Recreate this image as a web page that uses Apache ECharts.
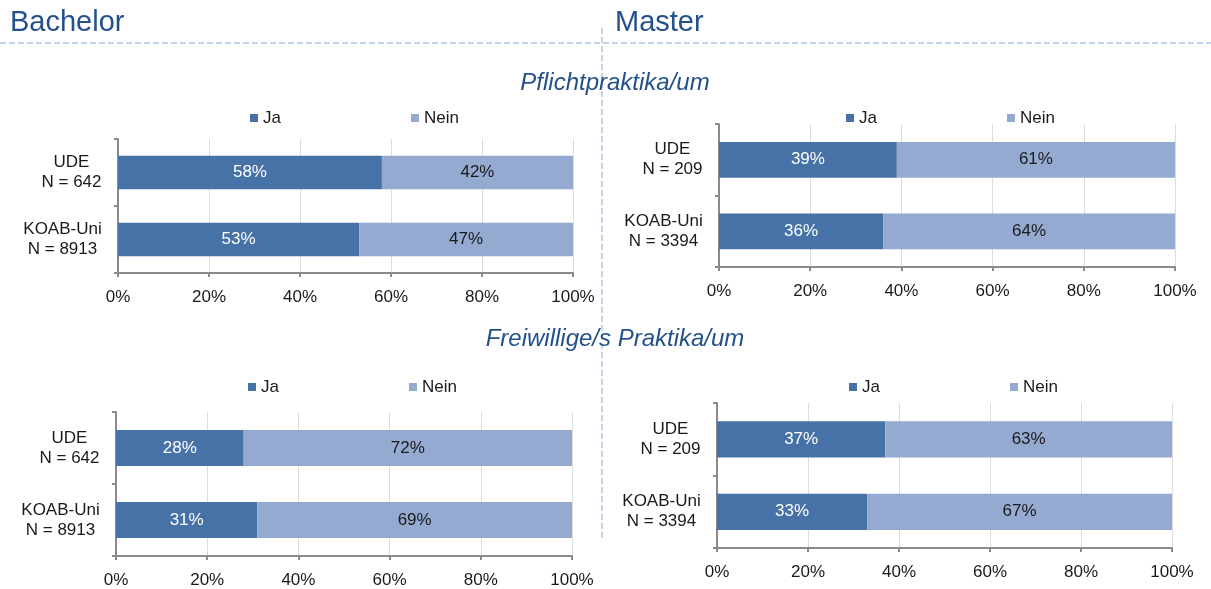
<!DOCTYPE html>
<html>
<head>
<meta charset="utf-8">
<script src="https://cdn.jsdelivr.net/npm/echarts@6/dist/echarts.min.js"></script>
<style>
  html, body { margin: 0; padding: 0; background: #ffffff; }
  #chart { width: 1211px; height: 589px; }
</style>
</head>
<body>
<div id="chart"></div>
<script>
// Categories (top to bottom) and shares in percent
const categories = ['UDE\nN = 642', 'KOAB-Uni\nN = 8913'];
const categoriesMaster = ['UDE\nN = 209', 'KOAB-Uni\nN = 3394'];
const seriesNames = ['Ja', 'Nein'];

const bachelorPflichtJa = [58, 53];
const bachelorPflichtNein = [42, 47];
const masterPflichtJa = [39, 36];
const masterPflichtNein = [61, 64];
const bachelorFreiwilligJa = [28, 31];
const bachelorFreiwilligNein = [72, 69];
const masterFreiwilligJa = [37, 33];
const masterFreiwilligNein = [63, 67];

const xTicks = [0, 20, 40, 60, 80, 100];

const panelTitles = ['Bachelor', 'Master'];
const sectionTitles = ['Pflichtpraktika/um', 'Freiwillige/s Praktika/um'];

const FONT = '"Liberation Sans", Arial, sans-serif';
const DARK = '#4672a8';
const LIGHT = '#94aad1';
const TITLE_BLUE = '#24518b';
const LINE_BLUE = '#c3d5ec';
const FS = 17;

// Measure text so that multi-line category labels can be centred line by line
// while the whole block stays right-aligned against the axis.
const measureCtx = document.createElement('canvas').getContext('2d');
measureCtx.font = FS + 'px ' + FONT;
function blockWidth(label) {
  return Math.ceil(Math.max.apply(null, label.split('\n').map(l => measureCtx.measureText(l).width)));
}
function categoryLabel(cats) {
  const rich = {};
  cats.forEach((c, k) => {
    rich['c' + k] = { width: blockWidth(c), align: 'center', fontSize: FS,
      fontFamily: FONT, color: '#1a1a1a', lineHeight: 20 };
  });
  return {
    rich: rich,
    formatter: (value, index) => value.split('\n').map(l => '{c' + index + '|' + l + '}').join('\n')
  };
}

// One panel per chart: grid box, legend anchor
const panels = [
  { grid: { left: 118, top: 139, width: 455, height: 134 }, legend: { left: 250, top: 109 },
    cats: categories, ja: bachelorPflichtJa, nein: bachelorPflichtNein },
  { grid: { left: 719, top: 124, width: 456, height: 143 }, legend: { left: 846, top: 109 },
    cats: categoriesMaster, ja: masterPflichtJa, nein: masterPflichtNein },
  { grid: { left: 116, top: 412, width: 456, height: 144 }, legend: { left: 248, top: 378 },
    cats: categories, ja: bachelorFreiwilligJa, nein: bachelorFreiwilligNein },
  { grid: { left: 717, top: 403, width: 455, height: 145 }, legend: { left: 849, top: 378 },
    cats: categoriesMaster, ja: masterFreiwilligJa, nein: masterFreiwilligNein }
];

const grids = [], xAxes = [], yAxes = [], series = [], legends = [];

panels.forEach((p, i) => {
  grids.push(Object.assign({ containLabel: false }, p.grid));
  xAxes.push({
    type: 'value', gridIndex: i, min: xTicks[0], max: xTicks[xTicks.length - 1],
    interval: xTicks[1] - xTicks[0],
    axisLine: { show: true, lineStyle: { color: '#8a8a8a', width: 2 } },
    axisTick: { show: true, length: 4, lineStyle: { color: '#8a8a8a', width: 2 } },
    splitLine: { show: true, lineStyle: { color: '#dcdcdc', width: 1 } },
    axisLabel: { color: '#1a1a1a', fontSize: FS, fontFamily: FONT, margin: 16,
      formatter: v => v + '%' }
  });
  const cl = categoryLabel(p.cats);
  yAxes.push({
    type: 'category', gridIndex: i, data: p.cats, inverse: true,
    axisLine: { show: true, lineStyle: { color: '#8a8a8a', width: 2 } },
    axisTick: { show: true, length: 4, lineStyle: { color: '#8a8a8a', width: 2 } },
    splitLine: { show: false },
    axisLabel: { color: '#1a1a1a', fontSize: FS, fontFamily: FONT, margin: 16,
      lineHeight: 20, align: 'right', rich: cl.rich, formatter: cl.formatter }
  });
  const stack = 'stack' + i;
  series.push({
    name: seriesNames[0], type: 'bar', xAxisIndex: i, yAxisIndex: i, stack: stack,
    data: p.ja, barCategoryGap: '50%', itemStyle: { color: DARK },
    label: { show: true, position: 'inside', formatter: '{c}%', color: '#ffffff',
      fontSize: FS, fontFamily: FONT }
  });
  series.push({
    name: seriesNames[1], type: 'bar', xAxisIndex: i, yAxisIndex: i, stack: stack,
    data: p.nein, barCategoryGap: '50%', itemStyle: { color: LIGHT },
    label: { show: true, position: 'inside', formatter: '{c}%', color: '#1a1a1a',
      fontSize: FS, fontFamily: FONT }
  });
  legends.push({
    data: seriesNames, left: p.legend.left, top: p.legend.top, padding: 0,
    icon: 'rect', itemWidth: 8, itemHeight: 8, itemGap: 130, selectedMode: false,
    textStyle: { color: '#1a1a1a', fontSize: FS, fontFamily: FONT, lineHeight: 18 }
  });
});

const graphics = [
  // dashed separator lines
  { type: 'line', z: -1, shape: { x1: 0, y1: 43, x2: 1211, y2: 43 },
    style: { stroke: LINE_BLUE, lineWidth: 2, lineDash: [6, 3] } },
  { type: 'line', z: -1, shape: { x1: 602, y1: 28, x2: 602, y2: 538 },
    style: { stroke: LINE_BLUE, lineWidth: 2, lineDash: [6, 3] } },
  // panel headings
  { type: 'text', x: 10, y: 22.5,
    style: { text: panelTitles[0], fill: TITLE_BLUE, font: '29px ' + FONT,
      verticalAlign: 'middle' } },
  { type: 'text', x: 615, y: 22.5,
    style: { text: panelTitles[1], fill: TITLE_BLUE, font: '29px ' + FONT,
      verticalAlign: 'middle' } },
  // section headings
  { type: 'text', x: 615, y: 83.5,
    style: { text: sectionTitles[0], fill: TITLE_BLUE, font: 'italic 24px ' + FONT,
      align: 'center', verticalAlign: 'middle' } },
  { type: 'text', x: 615, y: 339.5,
    style: { text: sectionTitles[1], fill: TITLE_BLUE, font: 'italic 24px ' + FONT,
      align: 'center', verticalAlign: 'middle' } }
];

const chart = echarts.init(document.getElementById('chart'), null, { renderer: 'canvas' });
chart.setOption({
  animation: false,
  backgroundColor: '#ffffff',
  grid: grids,
  xAxis: xAxes,
  yAxis: yAxes,
  legend: legends,
  series: series,
  graphic: graphics
});
</script>
</body>
</html>
